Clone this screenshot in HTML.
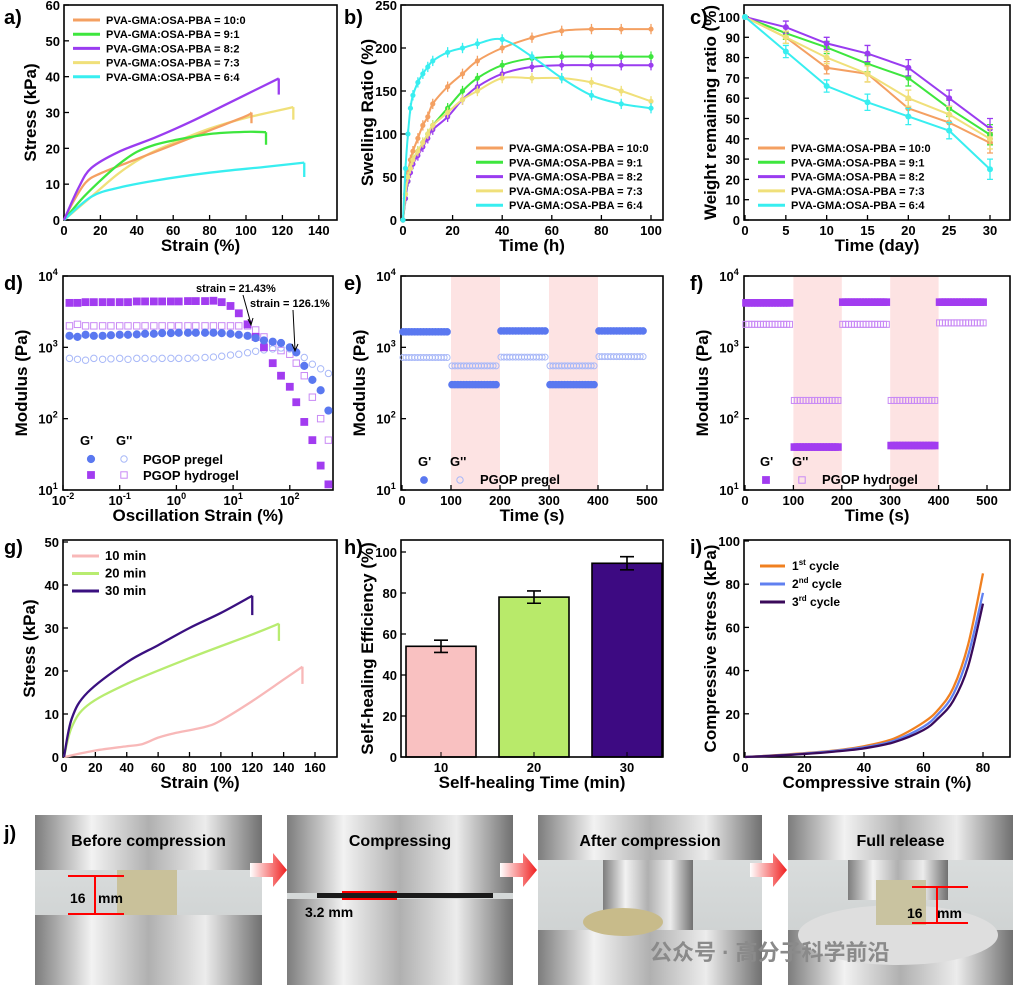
<!DOCTYPE html>
<html><head><meta charset="utf-8"><style>
html,body{margin:0;padding:0;background:#fff}
svg{display:block;font-family:"Liberation Sans","Noto Sans CJK SC",sans-serif}
text{font-weight:bold}
</style></head>
<body>
<svg id="chart" width="1021" height="992" viewBox="0 0 1021 992" xmlns="http://www.w3.org/2000/svg">
<defs>
<linearGradient id="metal" x1="0" x2="1" y1="0" y2="0">
<stop offset="0" stop-color="#7d7d7d"/><stop offset="0.25" stop-color="#f2f2f2"/><stop offset="0.5" stop-color="#b0b0b0"/><stop offset="0.75" stop-color="#ececec"/><stop offset="1" stop-color="#707070"/></linearGradient>
<linearGradient id="bg" x1="0" x2="0" y1="0" y2="1"><stop offset="0" stop-color="#dfe2e2"/><stop offset="1" stop-color="#c8cccc"/></linearGradient>
<linearGradient id="arr" x1="0" x2="1"><stop offset="0" stop-color="#fff"/><stop offset="1" stop-color="#f02020"/></linearGradient>
</defs>
</svg>
<script>
// ---------- DATA ----------
const aSeries = ["PVA-GMA:OSA-PBA = 10:0","PVA-GMA:OSA-PBA = 9:1","PVA-GMA:OSA-PBA = 8:2","PVA-GMA:OSA-PBA = 7:3","PVA-GMA:OSA-PBA = 6:4"];
const aStrain10 = [0,5,12,20,40,60,80,100,103];
const aStress10 = [0,5,10.5,13,17,21,25,29,30];
const aStrain9 = [0,10,20,30,40,50,60,80,100,111];
const aStress9 = [0,6,11,15.5,19,21,22.2,24,24.6,24.5];
const aStrain8 = [0,8,15,30,50,70,90,110,118];
const aStress8 = [0,9,14.5,19,23,27.5,32.5,37.5,39.5];
const aStrain7 = [0,15,30,45,60,80,100,126];
const aStress7 = [0,6.5,13,18,21.5,25.5,28.5,31.5];
const aStrain6 = [0,15,30,50,80,110,132];
const aStress6 = [0,6.5,9,11,13.2,14.8,16];
const aBreak = [27,21,35,28,12];

const bTime = [0,1,2,3,4,6,8,10,12,18,24,30,40,52,64,76,88,100];
const bS10 = [0,30,55,70,80,95,110,120,135,155,170,185,200,212,220,222,222,222];
const bS9 = [0,25,45,60,70,80,90,100,110,130,150,165,180,188,190,190,190,190];
const bS8 = [0,25,45,55,65,75,85,95,105,120,140,155,170,178,180,180,180,180];
const bS7 = [0,30,50,60,70,80,90,100,110,125,140,150,165,165,165,160,150,138];
const bS6 = [0,60,100,130,145,160,170,178,185,195,200,205,210,190,165,145,135,130];
const bErr = [0,6,6,6,6,6,6,6,6,6,6,6,6,6,6,6,6,6];

const cDay = [0,5,10,15,20,25,30];
const cW10 = [100,90,75,72,55,48,38];
const cW9 = [100,92,85,77,70,55,42];
const cW8 = [100,95,87,82,75,60,45];
const cW7 = [100,90,80,72,60,52,40];
const cW6 = [100,83,66,58,51,44,25];
const cErr = [0,3,3,4,4,4,5];

const dStrain = [0.013,0.018,0.025,0.035,0.05,0.07,0.1,0.14,0.2,0.28,0.4,0.56,0.8,1.1,1.6,2.2,3.2,4.5,6.3,9,12.6,18,25,35,50,70,100,130,180,250,350,480];
const dGpPre = [1450,1400,1500,1450,1450,1480,1500,1500,1520,1550,1550,1580,1580,1600,1600,1600,1600,1600,1580,1550,1500,1450,1350,1250,1200,1150,1000,850,550,350,250,130];
const dGppPre = [700,680,660,700,680,690,700,680,700,700,690,700,700,700,700,710,720,730,750,780,800,840,880,920,950,980,950,850,720,580,500,430];
const dGpHyd = [4200,4200,4300,4300,4300,4300,4300,4300,4400,4400,4400,4400,4400,4400,4450,4450,4450,4500,4300,3800,3000,2100,1400,1000,600,400,280,170,90,50,22,12];
const dGppHyd = [2000,2100,2000,2000,2000,2000,2000,2000,2000,2000,2000,2000,2000,2000,2000,2000,2000,2000,2000,2000,2000,2000,1750,1400,1000,900,800,600,400,200,100,50];

const eSegStart = [0,100,200,300,400];
const eGp = [1650,300,1700,300,1700];
const eGpp = [720,550,730,550,740];
const fGp = [4200,40,4300,42,4300];
const fGpp = [2100,180,2100,180,2200];

const gSeries = ["10 min","20 min","30 min"];
const gStrain10 = [0,20,40,50,60,70,90,100,120,140,152];
const gStress10 = [0,1.5,2.5,3,4.5,5.5,7,8.5,13,18,21];
const gStrain20 = [0,5,15,40,80,120,137];
const gStress20 = [0,7,12,17,23,28.5,31];
const gStrain30 = [0,5,15,40,60,80,100,120];
const gStress30 = [0,9,15,22,26,30,33.5,37.5];
const gBreak = [17,27,33];

const hCats = ["10","20","30"];
const hVals = [54,78,94.5];
const hErr = [3,3,3.2];

const iStrain = [0,10,20,30,40,50,60,65,70,75,80];
const iC1 = [0,0.8,1.8,3,5,8.5,16,22,32,52,85];
const iC2 = [0,0.7,1.6,2.8,4.5,7.5,14,20,29,47,76];
const iC3 = [0,0.6,1.4,2.5,4,6.8,12.5,18,26,42,71];

// ---------- HELPERS ----------
const NS = "http://www.w3.org/2000/svg";
const svg = document.getElementById('chart');
function el(tag, attrs, parent){
  const e = document.createElementNS(NS, tag);
  for (const k in attrs) e.setAttribute(k, attrs[k]);
  (parent || svg).appendChild(e);
  return e;
}
function txt(x, y, s, size, anchor, parent, fill){
  const t = el('text', {x:x, y:y, 'font-size':size, 'text-anchor':anchor||'start', fill:fill||'#000'}, parent);
  t.textContent = s;
  return t;
}
function lin(d0,d1,r0,r1){ return v => r0 + (v-d0)*(r1-r0)/(d1-d0); }
function logs(d0,d1,r0,r1){ return v => r0 + (Math.log10(v)-d0)*(r1-r0)/(d1-d0); }
function smooth(p){
  let d = 'M'+p[0][0]+','+p[0][1];
  for (let i=0;i<p.length-1;i++){
    const p0=p[i-1]||p[i], p1=p[i], p2=p[i+1], p3=p[i+2]||p[i+1];
    const c1x=p1[0]+(p2[0]-p0[0])/6, c1y=p1[1]+(p2[1]-p0[1])/6;
    const c2x=p2[0]-(p3[0]-p1[0])/6, c2y=p2[1]-(p3[1]-p1[1])/6;
    d += 'C'+c1x+','+c1y+' '+c2x+','+c2y+' '+p2[0]+','+p2[1];
  }
  return d;
}
function supLabel(x,y,exp,g){
  const t = el('text',{x:x,y:y,'font-size':13,'text-anchor':'middle'},g);
  
  
  const a = el('tspan',{},t); a.textContent='10';
  const b = el('tspan',{dy:-6,'font-size':9},t); b.textContent=exp;
  return t;
}
function axes(name, box, sx, sy, xt, yt, xlog, ylog, xtitle, ytitle){
  const g = el('g',{});
  
  
  const fr = el('rect',{x:box[0],y:box[2],width:box[1]-box[0],height:box[3]-box[2],fill:'none',stroke:'#000','stroke-width':1.6},g);
  
  
  xt.forEach(v=>{
    const x = sx(v);
    const tk = el('line',{x1:x,x2:x,y1:box[3],y2:box[3]-5,stroke:'#000','stroke-width':1.3},g);
    
    
    if (xlog) supLabel(x, box[3]+15, String(Math.round(Math.log10(v))), g);
    else {
      const t = txt(x, box[3]+15, String(v), 13, 'middle', g);
      
      
    }
  });
  yt.forEach(v=>{
    const y = sy(v);
    const tk = el('line',{x1:box[0],x2:box[0]+5,y1:y,y2:y,stroke:'#000','stroke-width':1.3},g);
    
    
    if (ylog) { supLabel(box[0]-15, y+5, String(Math.round(Math.log10(v))), g); }
    else {
      const t = txt(box[0]-4, y+5, String(v), 13, 'end', g);
      
      
    }
  });
  const xtT = txt((box[0]+box[1])/2, box[3]+31, xtitle, 17, 'middle', g);
  
  
  const yx = box[0]-(ylog?36:28), yy=(box[2]+box[3])/2;
  const ytT = txt(yx, yy, ytitle, 17, 'middle', g);
  ytT.setAttribute('transform','rotate(-90 '+yx+' '+yy+')');
  
  
  return g;
}
function panelLabel(x,y,s){
  const t = txt(x,y,s,20,'start');
  
  
}
function curve(xs, ys, sx, sy, color, w, brk, g){
  const pts = xs.map((v,i)=>[sx(v), sy(ys[i])]);
  const p = el('path',{d:smooth(pts),fill:'none',stroke:color,'stroke-width':w},g);
  
  
  if (brk !== undefined){
    const last = pts[pts.length-1];
    const b = el('line',{x1:last[0],x2:last[0],y1:last[1],y2:sy(brk),stroke:color,'stroke-width':w},g);
    
    
  }
  return p;
}
function legendLine(x,y,color,label,g,size){
  const l = el('line',{x1:x,x2:x+27,y1:y,y2:y,stroke:color,'stroke-width':3},g);
  
  
  const t = txt(x+33,y+4,label,size||11,'start',g);
  
  
  return t;
}

const cols5 = ['#f4a062','#3ee63e','#9a3cf0','#f0e07a','#38eef0'];

// ---------- PANEL A ----------
panelLabel(4,24,'a)');
const aBox=[64,337,5,220];
const ax = lin(0,150,64,337), ay = lin(0,60,220,5);
const gA = axes('panel-a-axes', aBox, ax, ay, [0,20,40,60,80,100,120,140], [0,10,20,30,40,50,60], false,false,'Strain (%)','Stress (kPa)');
const aX=[aStrain10,aStrain9,aStrain8,aStrain7,aStrain6], aY=[aStress10,aStress9,aStress8,aStress7,aStress6];
[3,0,1,4,2].forEach(i=>curve(aX[i],aY[i],ax,ay,cols5[i],2.3,aBreak[i],gA));
aSeries.forEach((s,i)=>legendLine(73,20+i*14.2,cols5[i],s,gA));

// ---------- PANEL B ----------
panelLabel(344,24,'b)');
const bBox=[401,663,5,220];
const bx = lin(0,100,403,651), by = lin(0,250,220,5);
const gB = axes('panel-b-axes', bBox, bx, by, [0,20,40,60,80,100],[0,50,100,150,200,250],false,false,'Time (h)','Swelling Ratio (%)');
const bYs=[bS10,bS9,bS8,bS7,bS6];
bYs.forEach((ys,i)=>{
  curve(bTime,ys,bx,by,cols5[i],2,undefined,gB);
  ys.forEach((v,j)=>{
    const x=bx(bTime[j]);
    const e=el('line',{x1:x,x2:x,y1:by(v-bErr[j]),y2:by(v+bErr[j]),stroke:cols5[i],'stroke-width':1.3},gB);
    
    
    const m=el('circle',{cx:x,cy:by(v),r:2.6,fill:cols5[i]},gB);
    
    
  });
});
aSeries.forEach((s,i)=>legendLine(476,148+i*14.3,cols5[i],s,gB));

// ---------- PANEL C ----------
panelLabel(690,24,'c)');
const cBox=[744,1010,5,220];
const cx = lin(0,30,745,990), cy = lin(0,100,220,17);
const gC = axes('panel-c-axes', cBox, cx, cy, [0,5,10,15,20,25,30],[0,10,20,30,40,50,60,70,80,90,100],false,false,'Time (day)','Weight remaining ratio (%)');
[cW10,cW9,cW8,cW7,cW6].forEach((ys,i)=>{
  const pts=ys.map((v,j)=>cx(cDay[j])+','+cy(v)).join(' ');
  const p=el('polyline',{points:pts,fill:'none',stroke:cols5[i],'stroke-width':2},gC);
  
  
  ys.forEach((v,j)=>{
    const x=cx(cDay[j]);
    const e=el('path',{d:'M'+x+','+cy(v-cErr[j])+'V'+cy(v+cErr[j])+'M'+(x-3)+','+cy(v-cErr[j])+'h6M'+(x-3)+','+cy(v+cErr[j])+'h6',stroke:cols5[i],'stroke-width':1.3,fill:'none'},gC);
    
    
    const m=el('circle',{cx:x,cy:cy(v),r:3,fill:cols5[i]},gC);
    
    
  });
});
aSeries.forEach((s,i)=>legendLine(758,148+i*14.3,cols5[i],s,gC));

// ---------- PANEL D ----------
const blue='#5a78f0', purp='#a23cf0', lpurp='#c98af5', lblue='#a8b8f8';
panelLabel(4,290,'d)');
const dBox=[63,333,276,490];
const dx = logs(-2,Math.log10(0.01)+270/56.7,63,333), dy = logs(1,4,490,276);
const gD = axes('panel-d-axes', dBox, dx, dy, [0.01,0.1,1,10,100],[10,100,1000,10000],true,true,'Oscillation Strain (%)','Modulus (Pa)');
function marker(g,x,y,shape,color,filled,r){
  let m;
  if (shape==='c') m=el('circle',{cx:x,cy:y,r:r,fill:filled?color:'none',stroke:color,'stroke-width':1},g);
  else m=el('rect',{x:x-r,y:y-r,width:2*r,height:2*r,fill:filled?color:'none',stroke:color,'stroke-width':1},g);
  
  
  return m;
}
dStrain.forEach((s,j)=>{
  marker(gD,dx(s),dy(dGppHyd[j]),'s',lpurp,false,3.2);
  marker(gD,dx(s),dy(dGppPre[j]),'c',lblue,false,3.2);
  marker(gD,dx(s),dy(dGpHyd[j]),'s',purp,true,3.4);
  marker(gD,dx(s),dy(dGpPre[j]),'c',blue,true,3.6);
});
const an1=txt(196,292,'strain = 21.43%',11,'start',gD);  
const an2=txt(250,307,'strain = 126.1%',11,'start',gD);  
const ar1=el('path',{d:'M243,295L251,324M248,319L251,325L253,318',stroke:'#000',fill:'none','stroke-width':1},gD);  
const ar2=el('path',{d:'M293,310L295,350M292,344L295,351L298,344',stroke:'#000',fill:'none','stroke-width':1},gD);  
[['G\'',80,445],['G\'\'',116,445],['PGOP pregel',143,464],['PGOP hydrogel',143,480]].forEach(a=>{
  const t=txt(a[1],a[2],a[0],13,'start',gD);
  
  
});
marker(gD,91,459,'c',blue,true,3.6); marker(gD,124,459,'c',lblue,false,3.2);
marker(gD,91,475,'s',purp,true,3.4); marker(gD,124,475,'s',lpurp,false,3.2);

// ---------- PANEL E & F ----------
function cyclic(name,box,label,gp,gpp,cGp,cGpp,shape,legendText,lx){
  const sx = lin(0,500,box[0]+1,box[0]+box[4]), sy = logs(1,4,490,276);
  const g0 = el('g',{});
  
  
  [100,300].forEach(s=>{
    const r=el('rect',{x:sx(s),y:276,width:sx(s+100)-sx(s),height:214,fill:'#fde3e3'},g0);
    
    
  });
  const g = axes(name, box, sx, sy, [0,100,200,300,400,500],[10,100,1000,10000],false,true,'Time (s)','Modulus (Pa)');
  eSegStart.forEach((st,k)=>{
    for (let t=st+2;t<st+98;t+=6){
      marker(g,sx(t),sy(gpp[k]),shape,cGpp,false,3);
      marker(g,sx(t),sy(gp[k]),shape,cGp,true,3.3);
    }
  });
  [['G\'',lx-2,466],['G\'\'',lx+30,466],[legendText,lx+60,484]].forEach(a=>{
    const t=txt(a[1],a[2],a[0],13,'start',g);
    
    
  });
  marker(g,lx+4,480,shape,cGp,true,3.4); marker(g,lx+40,480,shape,cGpp,false,3.2);
}
panelLabel(344,290,'e)');
cyclic('panel-e-axes',[401,663,276,490,246],'e)',eGp,eGpp,blue,lblue,'c','PGOP pregel',420);
panelLabel(690,290,'f)');
cyclic('panel-f-axes',[744,1010,276,490,243],'f)',fGp,fGpp,purp,lpurp,'s','PGOP hydrogel',762);

// ---------- PANEL G ----------
panelLabel(4,554,'g)');
const gBox=[63,337,540,757];
const gx = lin(0,160,64,315), gy = lin(0,50,757,542);
const gG = axes('panel-g-axes', gBox, gx, gy, [0,20,40,60,80,100,120,140,160],[0,10,20,30,40,50],false,false,'Strain (%)','Stress (kPa)');
const gCols=['#f8b8b8','#b8ec70','#3a1080'];
[[gStrain10,gStress10],[gStrain20,gStress20],[gStrain30,gStress30]].forEach((s,i)=>curve(s[0],s[1],gx,gy,gCols[i],2.3,gBreak[i],gG));
gSeries.forEach((s,i)=>legendLine(72,556+i*17.5,gCols[i],s,gG,13));

// ---------- PANEL H ----------
panelLabel(344,554,'h)');
const hBox=[401,663,540,757];
const hy = lin(0,100,757,552);
const hStep = 93, hX0 = 441;
const hx = i => hX0 + i*hStep;
const gH = el('g',{});


const hCols=['#f9c1c1','#b8ea6a','#3d0a82'];
hVals.forEach((v,i)=>{
  const b=el('rect',{x:hx(i)-35,y:hy(v),width:70,height:hy(0)-hy(v),fill:hCols[i],stroke:'#000','stroke-width':1.6},gH);
  
  
  const x=hx(i), t=hy(v+hErr[i]), bo=hy(v-hErr[i]);
  const e=el('path',{d:'M'+x+','+t+'V'+bo+'M'+(x-7)+','+t+'h14M'+(x-7)+','+bo+'h14',stroke:'#000','stroke-width':1.6,fill:'none'},gH);
  
  
});
const gHa = axes('panel-h-axes', hBox, v=>hx(hCats.indexOf(String(v))), hy, [], [0,20,40,60,80,100],false,false,'Self-healing Time (min)','Self-healing Efficiency (%)');
hCats.forEach((c,i)=>{
  const tk=el('line',{x1:hx(i),x2:hx(i),y1:757,y2:752,stroke:'#000'},gHa);
  
  
  const t=txt(hx(i),772,c,13,'middle',gHa);
  
  
});

// ---------- PANEL I ----------
panelLabel(690,554,'i)');
const iBox=[744,1010,540,757];
const ix = lin(0,80,745,983), iy = lin(0,100,757,541);
const gI = axes('panel-i-axes', iBox, ix, iy, [0,20,40,60,80],[0,20,40,60,80,100],false,false,'Compressive strain (%)','Compressive stress (kPa)');
const iCols=['#f08020','#6080f0','#3a0a5a'];
[iC1,iC2,iC3].forEach((ys,i)=>curve(iStrain,ys,ix,iy,iCols[i],2.3,undefined,gI));
['st','nd','rd'].forEach((sfx,i)=>{
  const y=566+i*18;
  const l=el('line',{x1:760,x2:785,y1:y,y2:y,stroke:iCols[i],'stroke-width':3},gI);
  
  
  const t=el('text',{x:792,y:y+4,'font-size':12},gI);
  
  
  const a=el('tspan',{},t); a.textContent=String(i+1);
  const b=el('tspan',{dy:-5,'font-size':8},t); b.textContent=sfx;
  const c=el('tspan',{dy:5},t); c.textContent=' cycle';
});

// ---------- PANEL J (photos) ----------
panelLabel(4,840,'j)');
const photos=[[35,262,'Before compression'],[287,513,'Compressing'],[538,762,'After compression'],[788,1013,'Full release']];
photos.forEach((p,k)=>{
  const g=el('g',{});
  
  
  const w=p[1]-p[0];
  el('rect',{x:p[0],y:815,width:w,height:170,fill:'url(#bg)'},g);
  let topEnd, botStart;
  if(k===0){topEnd=870;botStart=915;}
  else if(k===1){topEnd=893;botStart=899;}
  else {topEnd=860;botStart=930;}
  el('rect',{x:p[0],y:815,width:w,height:topEnd-815,fill:'url(#metal)'},g);
  el('rect',{x:p[0],y:botStart,width:w,height:985-botStart,fill:'url(#metal)'},g);
  if(k===1) el('rect',{x:p[0]+30,y:893,width:w-50,height:5,fill:'#1a1a1a'},g);
  if(k===2){ el('rect',{x:p[0]+65,y:860,width:90,height:70,fill:'url(#metal)'},g);
    el('ellipse',{cx:p[0]+85,cy:922,rx:40,ry:14,fill:'#c8bb8a'},g);}
  if(k===3){ el('rect',{x:p[0]+60,y:860,width:100,height:40,fill:'url(#metal)'},g);
    el('ellipse',{cx:p[0]+110,cy:935,rx:100,ry:30,fill:'#dedede'},g);
    el('rect',{x:p[0]+88,y:880,width:50,height:45,fill:'#c9c3a0'},g);}
  if(k===0) el('rect',{x:p[0]+82,y:870,width:60,height:45,fill:'#c9c19a'},g);
  const t=txt((p[0]+p[1])/2,846,p[2],16,'middle',g,'#000');
  
  
});
const dim=el('g',{stroke:'#f00','stroke-width':2,fill:'none'});


el('path',{d:'M68,876h56M68,914h56M95,876v38'},dim);
el('path',{d:'M342,892h55M342,899h55'},dim);
el('path',{d:'M912,887h56M912,923h56M937,887v36'},dim);
[['16',70,903],['mm',98,903],['3.2  mm',305,917],['16',907,918],['mm',937,918]].forEach(a=>{
  const t=txt(a[1],a[2],a[0],14,'start',svg,'#000');
  
  
});
[[250,870],[500,870],[750,870]].forEach(a=>{
  const ar=el('path',{d:'M'+a[0]+','+(a[1]-7)+'h23v-10l14,17l-14,17v-10h-23z',fill:'url(#arr)'});
  
  
});
const wm=txt(650,960,'公众号 · 高分子科学前沿',22,'start',svg,'#8a8a8a');
wm.setAttribute('font-weight','normal');


</script>
</body></html>
